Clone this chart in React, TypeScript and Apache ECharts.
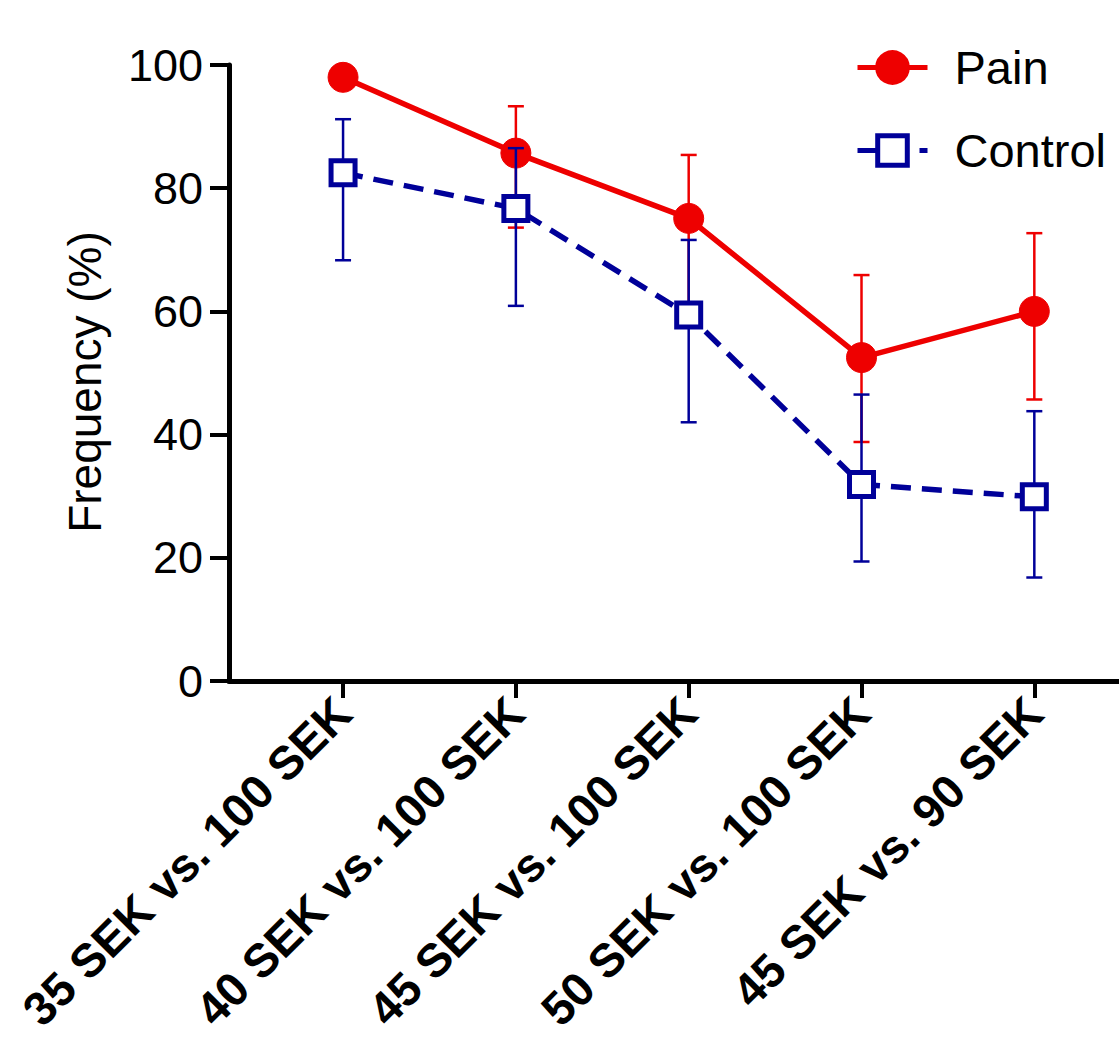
import React, { useEffect, useRef } from "react";
import * as echarts from "echarts";

const categories = [
  "35 SEK vs. 100 SEK",
  "40 SEK vs. 100 SEK",
  "45 SEK vs. 100 SEK",
  "50 SEK vs. 100 SEK",
  "45 SEK vs. 90 SEK",
];
const painValues = [98.0, 85.7, 75.1, 52.5, 60.0];
const painLow = [96.5, 73.6, 61.0, 38.8, 45.7];
const painHigh = [99.9, 93.3, 85.4, 65.9, 72.7];
const controlValues = [82.5, 76.7, 59.4, 31.9, 29.9];
const controlLow = [68.3, 60.9, 42.0, 19.4, 16.8];
const controlHigh = [91.2, 86.5, 71.6, 46.5, 43.8];
const yTicks = [0, 20, 40, 60, 80, 100];

const RED = "#ee0000";
const BLUE = "#000099";
const FONT = "Liberation Sans, Arial, Helvetica, sans-serif";

function errorSeries(name: string, low: number[], high: number[], color: string, z: number) {
  return {
    type: "custom",
    name: name + "-err",
    z,
    silent: true,
    data: low.map((l, i) => [i + 1, l, high[i]]),
    renderItem: (params: any, api: any) => {
      const x = api.value(0);
      const lo = api.coord([x, api.value(1)]);
      const hi = api.coord([x, api.value(2)]);
      const half = 8;
      const style = { stroke: color, lineWidth: 2.5, fill: "none" };
      return {
        type: "group",
        children: [
          { type: "line", shape: { x1: lo[0], y1: lo[1], x2: hi[0], y2: hi[1] }, style },
          { type: "line", shape: { x1: lo[0] - half, y1: lo[1], x2: lo[0] + half, y2: lo[1] }, style },
          { type: "line", shape: { x1: hi[0] - half, y1: hi[1], x2: hi[0] + half, y2: hi[1] }, style },
        ],
      };
    },
  };
}

export default function App() {
  const ref = useRef<HTMLDivElement>(null);
  useEffect(() => {
    document.body.style.margin = "0";
    const chart = echarts.init(ref.current!, null, { renderer: "svg" });
    const xs = categories.map((_, i) => i + 1);
    chart.setOption({
      animation: false,
      backgroundColor: "#ffffff",
      grid: { left: 229, top: 65, right: 0, bottom: 364, containLabel: false },
      legend: {
        orient: "vertical",
        left: 850,
        top: 39,
        itemWidth: 70,
        itemHeight: 37,
        itemGap: 36,
        data: ["Pain", "Control"],
        lineStyle: { width: 5 },
        itemStyle: { borderWidth: 5 },
        textStyle: { fontSize: 47, fontFamily: FONT, color: "#000", padding: [0, 0, 0, 22] },
      },
      xAxis: {
        type: "value",
        min: 0.34,
        max: 5.49,
        splitLine: { show: false },
        axisLine: { show: true, onZero: false, lineStyle: { color: "#000", width: 5 } },
        axisTick: {
          show: true,
          length: 17,
          customValues: xs,
          lineStyle: { color: "#000", width: 4 },
        },
        axisLabel: {
          customValues: xs,
          rotate: 45,
          margin: 24,
          fontSize: 47,
          fontWeight: "bold",
          fontFamily: FONT,
          color: "#000",
          formatter: (v: number) => categories[Math.round(v) - 1] ?? "",
        },
      },
      yAxis: {
        type: "value",
        min: 0,
        max: 100,
        interval: 20,
        name: "Frequency (%)",
        nameLocation: "middle",
        nameGap: 121,
        nameTextStyle: { fontSize: 46, fontFamily: FONT, color: "#000", padding: [0, 18, 0, 0] },
        splitLine: { show: false },
        axisLine: { show: true, lineStyle: { color: "#000", width: 5 } },
        axisTick: { show: true, length: 19, lineStyle: { color: "#000", width: 4 } },
        axisLabel: {
          margin: 26,
          fontSize: 45,
          fontFamily: FONT,
          color: "#000",
          formatter: (v: number) => (yTicks.includes(v) ? String(v) : ""),
        },
      },
      series: [
        errorSeries("Pain", painLow, painHigh, RED, 1),
        {
          type: "line",
          name: "Pain",
          z: 2,
          data: painValues.map((v, i) => [i + 1, v]),
          symbol: "circle",
          symbolSize: 30,
          lineStyle: { color: RED, width: 5.5 },
          itemStyle: { color: RED, borderColor: RED },
        },
        errorSeries("Control", controlLow, controlHigh, BLUE, 3),
        {
          type: "line",
          name: "Control",
          z: 4,
          data: controlValues.map((v, i) => [i + 1, v]),
          symbol: "rect",
          symbolSize: 24,
          lineStyle: { color: BLUE, width: 5.5, type: [20, 11] },
          itemStyle: { color: "#ffffff", borderColor: BLUE, borderWidth: 5 },
        },
      ],
    });
    return () => chart.dispose();
  }, []);
  return <div ref={ref} style={{ width: 1119, height: 1045 }} />;
}
